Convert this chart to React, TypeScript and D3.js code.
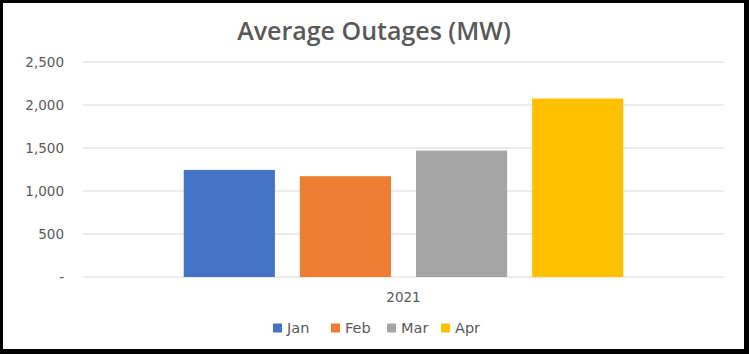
import React from 'react'
import * as d3 from 'd3'

const categories = ['2021']
const months = ['Jan', 'Feb', 'Mar', 'Apr']
const outages = [1245, 1172, 1470, 2075]
const colors = ['#4472C4', '#ED7D31', '#A5A5A5', '#FFC000']
const yTicks = [0, 500, 1000, 1500, 2000, 2500]

export default function App() {
  const width = 749
  const height = 354
  const plot = { left: 83, right: 724, top: 62, bottom: 277 }

  const y = d3.scaleLinear().domain([0, 2500]).range([plot.bottom, plot.top])
  const x0 = d3.scaleBand().domain(categories).range([plot.left, plot.right]).paddingOuter(0.19).paddingInner(0)
  const x1 = d3.scaleBand().domain(months).range([0, x0.bandwidth()]).paddingInner(0.215).paddingOuter(0.1075)
  const fmt = (v: number) => (v === 0 ? '-' : d3.format(',')(v))
  const titleFont = "'Open Sans', 'Liberation Sans', sans-serif"
  const font = "'DejaVu Sans', sans-serif"

  // legend layout
  const legendX = [273, 331, 387, 441]

  return (
    <svg width={width} height={height} style={{ position: 'absolute', left: 0, top: 0 }}>
      <rect x={0} y={0} width={width} height={height} fill="#000" />
      <rect x={3} y={3} width={741} height={346} fill="#fff" />

      <text x={374} y={40} textAnchor="middle" fontFamily={titleFont} fontWeight={600} fontSize={25} fill="#595959">
        Average Outages (MW)
      </text>

      {yTicks.map(t => (
        <g key={t}>
          <line x1={plot.left} x2={plot.right} y1={y(t)} y2={y(t)} stroke="#D9D9D9" strokeWidth={1.2} />
          <text x={64} y={y(t)} dy="0.36em" textAnchor="end" fontFamily={font} fontSize={13.5} fill="#595959">
            {fmt(t)}
          </text>
        </g>
      ))}

      {categories.map(c => (
        <g key={c} transform={`translate(${x0(c)},0)`}>
          {months.map((m, i) => (
            <rect
              key={m}
              x={x1(m)}
              y={y(outages[i])}
              width={x1.bandwidth()}
              height={y(0) - y(outages[i])}
              fill={colors[i]}
            />
          ))}
          <text x={x0.bandwidth() / 2} y={302} textAnchor="middle" fontFamily={font} fontSize={13.5} fill="#595959">
            {c}
          </text>
        </g>
      ))}

      {months.map((m, i) => (
        <g key={m} transform={`translate(${legendX[i]},${328})`}>
          <rect x={0} y={-4.5} width={9} height={9} fill={colors[i]} />
          <text x={14} y={0} dy="0.36em" fontFamily={font} fontSize={14.5} fill="#595959">
            {m}
          </text>
        </g>
      ))}
    </svg>
  )
}
